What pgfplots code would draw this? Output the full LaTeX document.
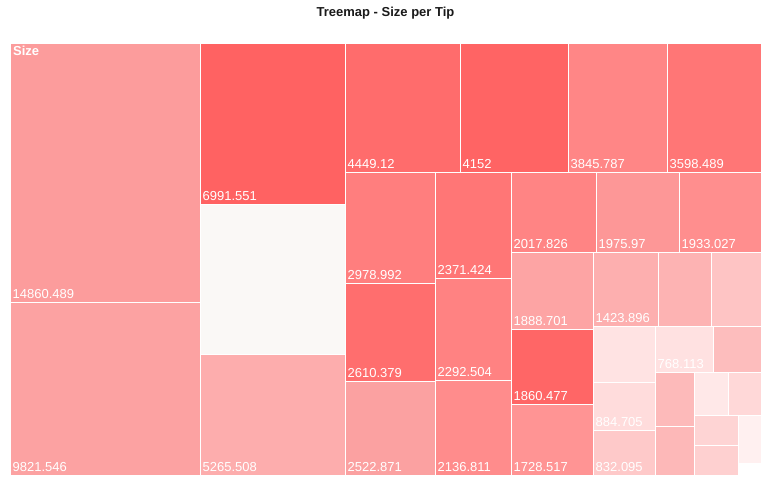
\documentclass[border=0pt]{standalone}
\usepackage{pgfplots}
\pgfplotsset{compat=1.18}
\usepackage{fontspec}
\setmainfont{Liberation Sans}
\definecolor{c1}{HTML}{FC9C9C}
\definecolor{c2}{HTML}{FCA2A2}
\definecolor{c3}{HTML}{FF6262}
\definecolor{c4}{HTML}{FAF8F6}
\definecolor{c5}{HTML}{FDADAD}
\definecolor{c6}{HTML}{FF6C6C}
\definecolor{c7}{HTML}{FF6464}
\definecolor{c8}{HTML}{FF8686}
\definecolor{c9}{HTML}{FF7676}
\definecolor{c10}{HTML}{FF7E7E}
\definecolor{c11}{HTML}{FF6E6E}
\definecolor{c12}{HTML}{FBA1A1}
\definecolor{c13}{HTML}{FF7676}
\definecolor{c14}{HTML}{FF8282}
\definecolor{c15}{HTML}{FF8C8C}
\definecolor{c16}{HTML}{FF8484}
\definecolor{c17}{HTML}{FD9797}
\definecolor{c18}{HTML}{FF8E8E}
\definecolor{c19}{HTML}{FDA4A4}
\definecolor{c20}{HTML}{FF6666}
\definecolor{c21}{HTML}{FF9494}
\definecolor{c22}{HTML}{FDAFAF}
\definecolor{c23}{HTML}{FDB3B3}
\definecolor{c24}{HTML}{FEC4C4}
\definecolor{c25}{HTML}{FFE3E3}
\definecolor{c26}{HTML}{FFDCDC}
\definecolor{c27}{HTML}{FEC9C9}
\definecolor{c28}{HTML}{FFE1E1}
\definecolor{c29}{HTML}{FDBDBD}
\definecolor{c30}{HTML}{FDBABA}
\definecolor{c31}{HTML}{FDB8B8}
\definecolor{c32}{HTML}{FFE8E8}
\definecolor{c33}{HTML}{FFD8D8}
\definecolor{c34}{HTML}{FED4D4}
\definecolor{c35}{HTML}{FED0D0}
\definecolor{c36}{HTML}{FFF0F0}
\newcommand\tm[6]{%
  \addplot[fill=#5, draw=white, line width=1bp] coordinates {(#1,#2) (#3,#2) (#3,#4) (#1,#4) (#1,#2)};
  \node[anchor=base west, inner sep=0pt, text=white, xshift=2.5bp, yshift=4bp,
        font=\fontsize{13bp}{15bp}\selectfont] at (axis cs:#1,#4) {#6};}
\begin{document}
\begin{tikzpicture}
\begin{axis}[width=771bp, height=485bp, scale only axis,
  xmin=0, xmax=771, ymin=0, ymax=485, y dir=reverse,
  hide axis, clip=false]
\addplot[draw=none, forget plot] coordinates {(0,0) (771,485)};
\tm{10}{44}{200}{302.5}{c1}{14860.489}
\tm{10}{302.5}{200}{475}{c2}{9821.546}
\tm{200}{44}{345}{204}{c3}{6991.551}
\tm{200}{204}{345}{354}{c4}{}
\tm{200}{354}{345}{475}{c5}{5265.508}
\tm{345}{44}{460}{172}{c6}{4449.12}
\tm{460}{44}{568}{172}{c7}{4152}
\tm{568}{44}{667}{172}{c8}{3845.787}
\tm{667}{44}{761}{172}{c9}{3598.489}
\tm{345}{172}{435}{283}{c10}{2978.992}
\tm{345}{283}{435}{381}{c11}{2610.379}
\tm{345}{381}{435}{475}{c12}{2522.871}
\tm{435}{172}{511}{278}{c13}{2371.424}
\tm{435}{278}{511}{380}{c14}{2292.504}
\tm{435}{380}{511}{475}{c15}{2136.811}
\tm{511}{172}{596}{252}{c16}{2017.826}
\tm{596}{172}{679}{252}{c17}{1975.97}
\tm{679}{172}{761}{252}{c18}{1933.027}
\tm{511}{252}{593}{329}{c19}{1888.701}
\tm{511}{329}{593}{404}{c20}{1860.477}
\tm{511}{404}{593}{475}{c21}{1728.517}
\tm{593}{252}{658}{326.5}{c22}{1423.896}
\tm{658}{252}{711}{326.5}{c23}{}
\tm{711}{252}{761}{326.5}{c24}{}
\tm{593}{326.5}{655}{382.5}{c25}{}
\tm{593}{382.5}{655}{430}{c26}{884.705}
\tm{593}{430}{655}{475}{c27}{832.095}
\tm{655}{326.5}{713}{372}{c28}{768.113}
\tm{713}{326.5}{761}{372}{c29}{}
\tm{655}{372}{694}{426}{c30}{}
\tm{655}{426}{694}{475}{c31}{}
\tm{694}{372}{728}{415}{c32}{}
\tm{728}{372}{761}{415}{c33}{}
\tm{694}{415}{738}{445}{c34}{}
\tm{694}{445}{738}{475}{c35}{}
\tm{738}{415}{761}{463}{c36}{}
\node[anchor=base west, inner sep=0pt, text=white, font=\bfseries\fontsize{13bp}{15bp}\selectfont] at (axis cs:13,56) {Size};
\node[anchor=base, inner sep=0pt, text=black!90, font=\bfseries\fontsize{13bp}{15bp}\selectfont] at (axis cs:385.5,17) {Treemap - Size per Tip};
\end{axis}
\end{tikzpicture}
\end{document}
